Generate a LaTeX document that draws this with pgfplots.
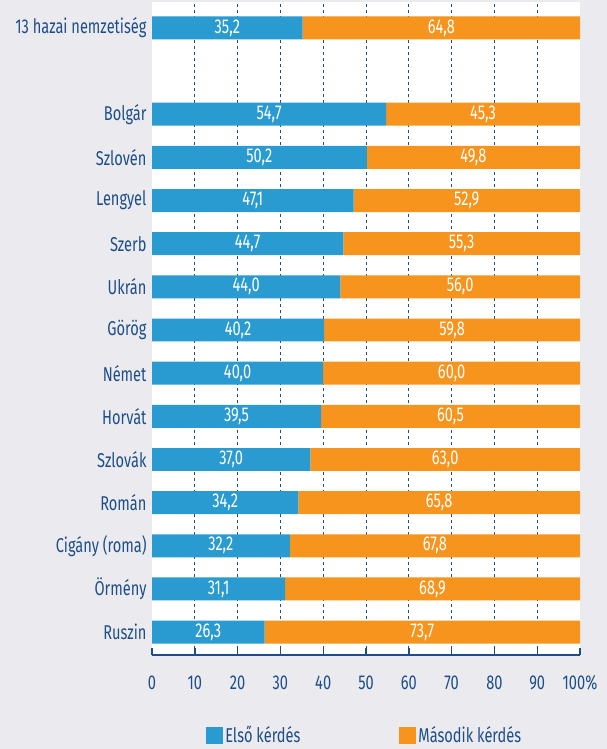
\documentclass[border=0pt]{standalone}
\usepackage{fontspec}
\setmainfont{Fira Sans}[FakeStretch=0.73]
\usepackage{pgfplots}
\pgfplotsset{compat=1.18}
\usepackage{pgfplotstable}
\definecolor{bg}{HTML}{EBEBEF}
\definecolor{cblue}{HTML}{2A9BD1}
\definecolor{corange}{HTML}{F7941E}
\definecolor{ctext}{HTML}{1D4E8A}

\pgfplotstableread{
y a b
14 35.2 64.8
12 54.7 45.3
11 50.2 49.8
10 47.1 52.9
9 44.7 55.3
8 44.0 56.0
7 40.2 59.8
6 40.0 60.0
5 39.5 60.5
4 37.0 63.0
3 34.2 65.8
2 32.2 67.8
1 31.1 68.9
0 26.3 73.7
}\datatable

\newcommand{\lblfont}{\fontsize{20}{23}\selectfont}

\pgfplotsset{
  geom/.style={
    at={(152pt,94pt)}, anchor=south west,
    scale only axis, width=428pt, height=653pt,
    xmin=0, xmax=100, ymin=-0.53, ymax=14.6,
  }
}

\begin{document}
\begin{tikzpicture}[x=1pt,y=1pt]
\fill[bg] (0,0) rectangle (607,749);
\begin{axis}[
  geom,
  xbar stacked, bar width=0.532,
  axis background/.style={fill=white},
  axis x line*=bottom, axis y line*=left,
  y axis line style={draw=none},
  x axis line style={ctext, line width=1.4pt, -},
  xtick={0,10,...,100},
  xticklabels={0,10,20,30,40,50,60,70,80,90,100\%},
  tick align=inside, major tick length=7pt,
  xtick style={ctext, line width=1.4pt},
  extra x ticks={10,20,...,90},
  extra x tick labels={},
  extra x tick style={grid=major, major tick length=0pt},
  grid style={ctext, line width=1pt, dash pattern=on 2.5pt off 3.5pt},
  ytick={0,1,2,3,4,5,6,7,8,9,10,11,12,14},
  yticklabels={Ruszin,Örmény,Cigány (roma),Román,Szlovák,Horvát,Német,Görög,Ukrán,Szerb,Lengyel,Szlovén,Bolgár,13 hazai nemzetiség},
  ytick style={draw=none},
  tick label style={font=\lblfont, text=ctext},
  xticklabel style={yshift=-17pt},
  yticklabel style={xshift=-2pt},
  /pgf/number format/assume math mode=true,
  legend style={at={(0.497,-0.123)}, anchor=center, draw=none, fill=none,
    font=\lblfont, text=ctext, legend columns=2, inner sep=1pt,
    /tikz/every even column/.append style={column sep=97pt}},
  legend image code/.code={\fill[#1] (0pt,-8.5pt) rectangle (17pt,8.5pt);},
]
\addplot[fill=cblue, draw=none] table[x=a, y=y]{\datatable};
\addplot[fill=corange, draw=none] table[x=b, y=y]{\datatable};
\legend{Első kérdés, Második kérdés}
\end{axis}
\begin{axis}[
  geom, hide axis,
  nodes near coords,
  every node near coord/.append style={font=\lblfont, text=white, anchor=center},
  /pgf/number format/.cd, use comma, fixed, fixed zerofill, precision=1, assume math mode=true,
]
\addplot[draw=none, mark=none, nodes near coords, point meta=\thisrow{a}]
  table[x expr=\thisrow{a}/2, y=y]{\datatable};
\addplot[draw=none, mark=none, nodes near coords, point meta=\thisrow{b}]
  table[x expr=\thisrow{a}+\thisrow{b}/2, y=y]{\datatable};
\end{axis}
\pgfresetboundingbox
\useasboundingbox (0,0) rectangle (607,749);
\end{tikzpicture}
\end{document}
